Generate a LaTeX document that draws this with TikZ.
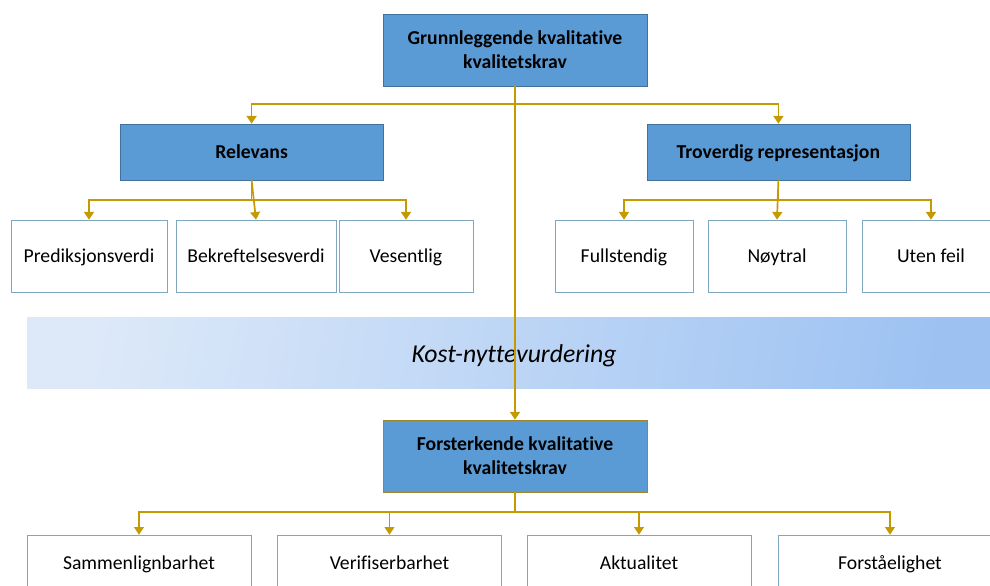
\documentclass[tikz,border=0pt]{standalone}
\usepackage{fontspec}
\setmainfont{Carlito}[Ligatures=NoCommon]
\usetikzlibrary{arrows.meta,positioning,calc}
\definecolor{boxblue}{HTML}{5B9BD5}
\definecolor{boxedge}{HTML}{41719C}
\definecolor{leafedge}{HTML}{7FA7BF}
\definecolor{gold}{HTML}{C49A00}
\definecolor{goldedge}{HTML}{A08428}
\definecolor{bandlight}{HTML}{DDE9F9}
\definecolor{banddark}{HTML}{9DC2F2}

\begin{document}
\begin{tikzpicture}[
  main/.style={draw=boxedge, fill=boxblue, minimum width=6.6cm, minimum height=1.8cm, align=center, font=\fontsize{14}{17}\selectfont\bfseries},
  sub/.style={draw=boxedge, fill=boxblue, minimum width=6.575cm, minimum height=1.4cm, align=center, text height=2ex, text depth=0pt, font=\fontsize{14}{17}\selectfont\bfseries},
  leaf/.style={draw=leafedge, fill=white, minimum height=1.8cm, align=center, text height=2ex, text depth=0pt, font=\fontsize{14}{17}\selectfont},
  low/.style={draw=leafedge, fill=white, minimum width=5.6cm, minimum height=1.4cm, align=center, text height=2ex, text depth=0pt, font=\fontsize{14}{17}\selectfont},
  arr/.style={-{Triangle[width=7pt,length=5.5pt]}, line width=1.2pt, color=gold},
]
\useasboundingbox (0,0) rectangle (24.75,-14.625);

% cost-benefit band
\shade[left color=bandlight, right color=banddark, shading angle=80] (0.675,-7.925) rectangle (25,-9.7);
\node[font=\fontsize{18.3}{22}\selectfont\itshape] (kost) at (12.85,-8.9) {Kost-nyttevurdering};

\node[main] (top) at (12.875,-1.25) {Grunnleggende kvalitative\\kvalitetskrav};
\node[sub] (rel) at (6.29,-3.8) {Relevans};
\node[sub] (trov) at (19.46,-3.8) {Troverdig representasjon};

\node[leaf, minimum width=3.9cm] (pred) at (2.225,-6.4) {Prediksjonsverdi};
\node[leaf, minimum width=4.0cm] (bekr) at (6.4,-6.4) {Bekreftelsesverdi};
\node[leaf, minimum width=3.35cm] (vesen) at (10.15,-6.4) {Vesentlig};

\node[leaf, minimum width=3.45cm] (full) at (15.6,-6.4) {Fullstendig};
\node[leaf, minimum width=3.45cm] (noyt) at (19.425,-6.4) {Nøytral};
\node[leaf, minimum width=3.45cm] (uten) at (23.275,-6.4) {Uten feil};

\node[main, draw=goldedge] (fors) at (12.875,-11.4) {Forsterkende kvalitative\\kvalitetskrav};

\node[low] (samm) at (3.475,-14.075) {Sammenlignbarhet};
\node[low] (veri) at (9.7375,-14.075) {Verifiserbarhet};
\node[low] (aktu) at (15.975,-14.075) {Aktualitet};
\node[low] (forst) at (22.25,-14.075) {Forståelighet};

% connectors
\draw[arr] (top.south) -- ++(0,-0.45) -| (rel.north);
\draw[arr] (top.south) -- ++(0,-0.45) -| (trov.north);
\draw[arr] (top.south) -- (fors.north);

\draw[arr] (rel.south) -- ++(0,-0.5) -| (pred.north);
\draw[arr] (rel.south) -- (bekr.north);
\draw[arr] (rel.south) -- ++(0,-0.5) -| (vesen.north);

\draw[arr] (trov.south) -- ++(0,-0.5) -| (full.north);
\draw[arr] (trov.south) -- (noyt.north);
\draw[arr] (trov.south) -- ++(0,-0.5) -| (uten.north);

\draw[arr] (fors.south) -- ++(0,-0.5) -| (samm.north);
\draw[arr] (fors.south) -- ++(0,-0.5) -| (veri.north);
\draw[arr] (fors.south) -- ++(0,-0.5) -| (aktu.north);
\draw[arr] (fors.south) -- ++(0,-0.5) -| (forst.north);

\end{tikzpicture}
\end{document}
